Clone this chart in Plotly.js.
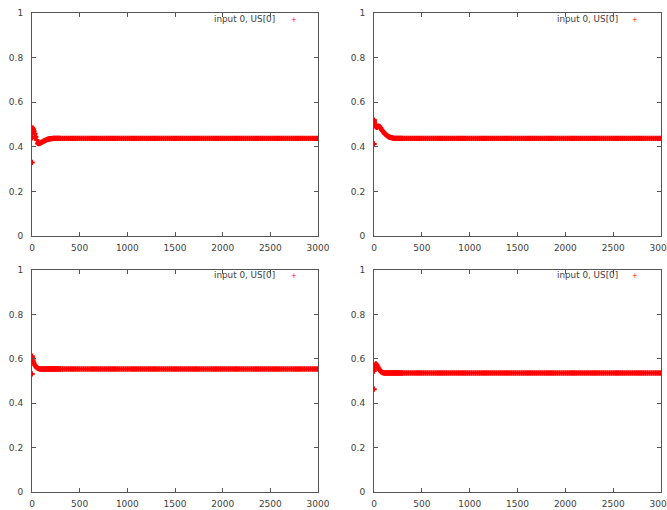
<!DOCTYPE html>
<html>
<head>
<meta charset="utf-8">
<script src="https://cdn.plot.ly/plotly-3.0.1.min.js"></script>
<style>html,body{margin:0;padding:0;background:#fff;}#chart{width:667px;height:510px;}</style>
</head>
<body>
<div id="chart"></div>
<script>
// step index (early, dense part of the transient)
var stepsEarly = [0,1,2,5,10,15,20,30,40,50,60,70,80,90,100,110,120,130,140,150,160,170,180,190,200,210,220,230,240,250,260,270,280,290,300];
// step index (steady part)
var stepsLate = [320,340,360,380,400,420,440,460,480,500,520,540,560,580,600,620,640,660,680,700,720,740,760,780,800,820,840,860,880,900,920,940,960,980,1000,1020,1040,1060,1080,1100,1120,1140,1160,1180,1200,1220,1240,1260,1280,1300,1320,1340,1360,1380,1400,1420,1440,1460,1480,1500,1520,1540,1560,1580,1600,1620,1640,1660,1680,1700,1720,1740,1760,1780,1800,1820,1840,1860,1880,1900,1920,1940,1960,1980,2000,2020,2040,2060,2080,2100,2120,2140,2160,2180,2200,2220,2240,2260,2280,2300,2320,2340,2360,2380,2400,2420,2440,2460,2480,2500,2520,2540,2560,2580,2600,2620,2640,2660,2680,2700,2720,2740,2760,2780,2800,2820,2840,2860,2880,2900,2920,2940,2960,2980,3000];

// panel 1 (top-left) US[0]
var p1Early = [0.33,0.46,0.44,0.485,0.48,0.476,0.47,0.458,0.445,0.43,0.415,0.414,0.416,0.418,0.42,0.422,0.424,0.427,0.429,0.431,0.433,0.434,0.435,0.436,0.437,0.437,0.438,0.438,0.438,0.438,0.438,0.438,0.438,0.438,0.438];
var p1Late = [
0.438,0.438,0.438,0.438,0.438,0.438,0.438,0.438,0.438,0.438,0.438,0.438,0.438,0.438,0.438,
0.438,0.438,0.438,0.438,0.438,0.438,0.438,0.438,0.438,0.438,0.438,0.438,0.438,0.438,0.438,
0.438,0.438,0.438,0.438,0.438,0.438,0.438,0.438,0.438,0.438,0.438,0.438,0.438,0.438,0.438,
0.438,0.438,0.438,0.438,0.438,0.438,0.438,0.438,0.438,0.438,0.438,0.438,0.438,0.438,0.438,
0.438,0.438,0.438,0.438,0.438,0.438,0.438,0.438,0.438,0.438,0.438,0.438,0.438,0.438,0.438,
0.438,0.438,0.438,0.438,0.438,0.438,0.438,0.438,0.438,0.438,0.438,0.438,0.438,0.438,0.438,
0.438,0.438,0.438,0.438,0.438,0.438,0.438,0.438,0.438,0.438,0.438,0.438,0.438,0.438,0.438,
0.438,0.438,0.438,0.438,0.438,0.438,0.438,0.438,0.438,0.438,0.438,0.438,0.438,0.438,0.438,
0.438,0.438,0.438,0.438,0.438,0.438,0.438,0.438,0.438,0.438,0.438,0.438,0.438,0.438,0.438];

// panel 2 (top-right) US[0]
var p2Early = [0.413,0.52,0.515,0.508,0.5,0.495,0.49,0.487,0.489,0.493,0.49,0.484,0.477,0.471,0.465,0.46,0.456,0.452,0.449,0.446,0.444,0.442,0.441,0.44,0.439,0.438,0.438,0.438,0.438,0.438,0.438,0.438,0.438,0.438,0.438];
var p2Late = [
0.438,0.438,0.438,0.438,0.438,0.438,0.438,0.438,0.438,0.438,0.438,0.438,0.438,0.438,0.438,
0.438,0.438,0.438,0.438,0.438,0.438,0.438,0.438,0.438,0.438,0.438,0.438,0.438,0.438,0.438,
0.438,0.438,0.438,0.438,0.438,0.438,0.438,0.438,0.438,0.438,0.438,0.438,0.438,0.438,0.438,
0.438,0.438,0.438,0.438,0.438,0.438,0.438,0.438,0.438,0.438,0.438,0.438,0.438,0.438,0.438,
0.438,0.438,0.438,0.438,0.438,0.438,0.438,0.438,0.438,0.438,0.438,0.438,0.438,0.438,0.438,
0.438,0.438,0.438,0.438,0.438,0.438,0.438,0.438,0.438,0.438,0.438,0.438,0.438,0.438,0.438,
0.438,0.438,0.438,0.438,0.438,0.438,0.438,0.438,0.438,0.438,0.438,0.438,0.438,0.438,0.438,
0.438,0.438,0.438,0.438,0.438,0.438,0.438,0.438,0.438,0.438,0.438,0.438,0.438,0.438,0.438,
0.438,0.438,0.438,0.438,0.438,0.438,0.438,0.438,0.438,0.438,0.438,0.438,0.438,0.438,0.438];

// panel 3 (bottom-left) US[0]
var p3Early = [0.532,0.612,0.607,0.6,0.592,0.585,0.579,0.571,0.565,0.56,0.557,0.556,0.555,0.554,0.554,0.554,0.554,0.554,0.554,0.554,0.554,0.554,0.554,0.554,0.554,0.554,0.554,0.554,0.554,0.554,0.554,0.554,0.554,0.554,0.554];
var p3Late = [
0.554,0.554,0.554,0.554,0.554,0.554,0.554,0.554,0.554,0.554,0.554,0.554,0.554,0.554,0.554,
0.554,0.554,0.554,0.554,0.554,0.554,0.554,0.554,0.554,0.554,0.554,0.554,0.554,0.554,0.554,
0.554,0.554,0.554,0.554,0.554,0.554,0.554,0.554,0.554,0.554,0.554,0.554,0.554,0.554,0.554,
0.554,0.554,0.554,0.554,0.554,0.554,0.554,0.554,0.554,0.554,0.554,0.554,0.554,0.554,0.554,
0.554,0.554,0.554,0.554,0.554,0.554,0.554,0.554,0.554,0.554,0.554,0.554,0.554,0.554,0.554,
0.554,0.554,0.554,0.554,0.554,0.554,0.554,0.554,0.554,0.554,0.554,0.554,0.554,0.554,0.554,
0.554,0.554,0.554,0.554,0.554,0.554,0.554,0.554,0.554,0.554,0.554,0.554,0.554,0.554,0.554,
0.554,0.554,0.554,0.554,0.554,0.554,0.554,0.554,0.554,0.554,0.554,0.554,0.554,0.554,0.554,
0.554,0.554,0.554,0.554,0.554,0.554,0.554,0.554,0.554,0.554,0.554,0.554,0.554,0.554,0.554];

// panel 4 (bottom-right) US[0]
var p4Early = [0.463,0.545,0.553,0.562,0.57,0.575,0.577,0.572,0.564,0.556,0.549,0.544,0.54,0.538,0.537,0.536,0.536,0.536,0.536,0.536,0.536,0.536,0.536,0.536,0.536,0.536,0.536,0.536,0.536,0.536,0.536,0.536,0.536,0.536,0.536];
var p4Late = [
0.536,0.536,0.536,0.536,0.536,0.536,0.536,0.536,0.536,0.536,0.536,0.536,0.536,0.536,0.536,
0.536,0.536,0.536,0.536,0.536,0.536,0.536,0.536,0.536,0.536,0.536,0.536,0.536,0.536,0.536,
0.536,0.536,0.536,0.536,0.536,0.536,0.536,0.536,0.536,0.536,0.536,0.536,0.536,0.536,0.536,
0.536,0.536,0.536,0.536,0.536,0.536,0.536,0.536,0.536,0.536,0.536,0.536,0.536,0.536,0.536,
0.536,0.536,0.536,0.536,0.536,0.536,0.536,0.536,0.536,0.536,0.536,0.536,0.536,0.536,0.536,
0.536,0.536,0.536,0.536,0.536,0.536,0.536,0.536,0.536,0.536,0.536,0.536,0.536,0.536,0.536,
0.536,0.536,0.536,0.536,0.536,0.536,0.536,0.536,0.536,0.536,0.536,0.536,0.536,0.536,0.536,
0.536,0.536,0.536,0.536,0.536,0.536,0.536,0.536,0.536,0.536,0.536,0.536,0.536,0.536,0.536,
0.536,0.536,0.536,0.536,0.536,0.536,0.536,0.536,0.536,0.536,0.536,0.536,0.536,0.536,0.536];

var seriesName = "input 0, US[0]";
var yTicks = [0, 0.2, 0.4, 0.6, 0.8, 1];
var yTickText = ["0", "0.2", "0.4", "0.6", "0.8", "1"];
var xTicks = [0, 500, 1000, 1500, 2000, 2500, 3000];
var xTickText = ["0", "500", "1000", "1500", "2000", "2500", "3000"];

var W = 667, H = 510;
var xs = stepsEarly.concat(stepsLate);
var panels = [
  {y: p1Early.concat(p1Late), xa: 'x',  ya: 'y'},
  {y: p2Early.concat(p2Late), xa: 'x2', ya: 'y2'},
  {y: p3Early.concat(p3Late), xa: 'x3', ya: 'y3'},
  {y: p4Early.concat(p4Late), xa: 'x4', ya: 'y4'}
];

var traces = panels.map(function(p){
  return {
    type: 'scatter', mode: 'markers', x: xs, y: p.y,
    xaxis: p.xa, yaxis: p.ya, name: seriesName, showlegend: false,
    marker: {symbol: 'cross-thin', size: 3.8, color: '#ff0000', line: {color: '#ff0000', width: 2}},
    hoverinfo: 'skip'
  };
});

var fnt = {family: 'DejaVu Sans, sans-serif', size: 9, color: '#404040'};
function xax(dom, anchor){
  return {domain: dom, anchor: anchor, range: [0, 3000], tickvals: xTicks, ticktext: xTickText,
    ticks: 'inside', ticklen: 4, tickcolor: '#555', showline: true, linecolor: '#555', linewidth: 1,
    mirror: 'ticks', showgrid: false, zeroline: false, tickfont: fnt, ticklabelstandoff: 3,
    ticklabeloverflow: 'allow', fixedrange: true};
}
function yax(dom, anchor){
  return {domain: dom, anchor: anchor, range: [0, 1], tickvals: yTicks, ticktext: yTickText,
    ticks: 'inside', ticklen: 4, tickcolor: '#555', showline: true, linecolor: '#555', linewidth: 1,
    mirror: 'ticks', showgrid: false, zeroline: false, tickfont: fnt, ticklabelstandoff: 6,
    ticklabeloverflow: 'allow', fixedrange: true};
}
var xL = [32/W, 318/W], xR = [374/W, 661/W];
var yT = [1 - 236/H, 1 - 13/H], yB = [1 - 492/H, 1 - 270/H];

var legendPos = [[277, 294, 19], [620, 635, 19], [277, 294, 275], [620, 635, 275]];
var annotations = [];
legendPos.forEach(function(p){
  annotations.push({xref: 'paper', yref: 'paper', x: p[0]/W, y: 1 - p[2]/H, xanchor: 'right', yanchor: 'middle',
    text: seriesName, showarrow: false, font: {family: 'DejaVu Sans, sans-serif', size: 8.8, color: '#404040'}});
  annotations.push({xref: 'paper', yref: 'paper', x: p[1]/W, y: 1 - (p[2]+1)/H, xanchor: 'center', yanchor: 'middle',
    text: '+', showarrow: false, font: {family: 'DejaVu Sans, sans-serif', size: 7, color: '#ff0000'}});
});

var layout = {
  width: W, height: H, margin: {l: 0, r: 0, t: 0, b: 0}, paper_bgcolor: '#fff', plot_bgcolor: '#fff',
  showlegend: false,
  xaxis: xax(xL, 'y'), yaxis: yax(yT, 'x'),
  xaxis2: xax(xR, 'y2'), yaxis2: yax(yT, 'x2'),
  xaxis3: xax(xL, 'y3'), yaxis3: yax(yB, 'x3'),
  xaxis4: xax(xR, 'y4'), yaxis4: yax(yB, 'x4'),
  annotations: annotations
};
Plotly.newPlot('chart', traces, layout, {staticPlot: true, displayModeBar: false});
</script>
</body>
</html>
